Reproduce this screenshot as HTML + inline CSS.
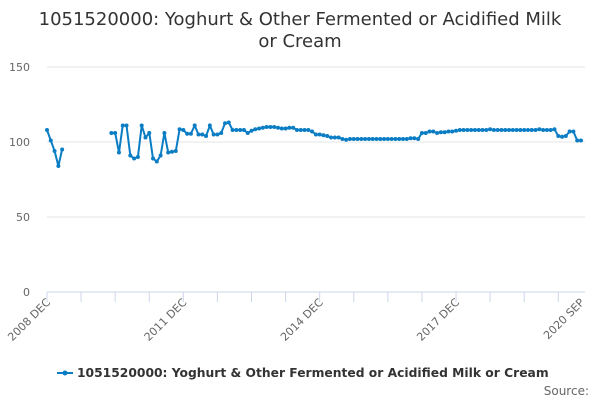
<!DOCTYPE html>
<html><head><meta charset="utf-8"><style>
body{margin:0;background:#fff;font-family:"DejaVu Sans",sans-serif;}
svg text{font-family:"DejaVu Sans",sans-serif;}
</style></head><body>
<svg id="c" width="600" height="400">
<text x="300" y="25" text-anchor="middle" font-size="18" fill="#333"><tspan x="300">1051520000: Yoghurt &amp; Other Fermented or Acidified Milk</tspan><tspan x="300" dy="22">or Cream</tspan></text>
<g id="grid"></g><g id="xaxis"></g><g id="series"></g>
<g>
<line x1="57" y1="373" x2="73" y2="373" stroke="#0b7dc4" stroke-width="2"/>
<circle cx="65" cy="373" r="2.5" fill="#0b7dc4"/>
<text x="77" y="377" font-size="12.3" font-weight="bold" fill="#333">1051520000: Yoghurt &amp; Other Fermented or Acidified Milk or Cream</text>
</g>
<text x="589" y="395" text-anchor="end" font-size="12" fill="#666">Source:</text>
</svg>
<script>
const yTicks=[0,50,100,150];
const xLabels=["2008 DEC","2011 DEC","2014 DEC","2017 DEC","2020 SEP"];
const xLabelIdx=[0,36,72,108,141];
const values=[108,101,94,84,95,null,null,null,null,null,null,null,null,null,null,null,null,
106,106,93,111,111,91,89,90,111,103,106,89,87,91,106,93,93.5,94,108.5,108,105.5,105.5,111,105,105,104,111,105,105,106,112.5,113,108,
108,108,108,106,107.5,108.5,109,109.5,110,110,110,109.5,109,109,109.5,109.5,108,108,108,108,107,105,105,104.5,104,103,103,103,102,101.5,
102,102,102,102,102,102,102,102,102,102,102,102,102,102,102,102,102.5,102.5,102,
106,106,107,107,106,106.5,106.5,107,107,107.5,108,108,108,108,108,108,108,108,108.5,108,108,108,108,108,108,108,108,108,108,108,108,108.5,108,108,108,108.5,
104,103.5,104,107,107,101,101];
const NS="http://www.w3.org/2000/svg";
const x=i=>47+i*(581-47)/141;
const y=v=>292-v*1.5;
const g=document.getElementById('grid');
yTicks.forEach(t=>{
 const l=document.createElementNS(NS,'line');
 
 
 l.setAttribute('x1',47);l.setAttribute('x2',585);l.setAttribute('y1',y(t));l.setAttribute('y2',y(t));
 l.setAttribute('stroke',t===0?'#ccd6eb':'#e6e6e6');g.appendChild(l);
 const tx=document.createElementNS(NS,'text');
 
 
 tx.setAttribute('x',30);tx.setAttribute('y',y(t)+4);tx.setAttribute('text-anchor','end');
 tx.setAttribute('font-size','11');tx.setAttribute('fill','#666');tx.textContent=t;g.appendChild(tx);
});
const xa=document.getElementById('xaxis');
for(let i=0;i<=141;i+=9){
 const l=document.createElementNS(NS,'line');
 
 
 l.setAttribute('x1',x(i));l.setAttribute('x2',x(i));l.setAttribute('y1',292);l.setAttribute('y2',302);
 l.setAttribute('stroke','#ccd6eb');xa.appendChild(l);
}
xLabels.forEach((lab,k)=>{
 const tx=document.createElementNS(NS,'text');
 
 
 const px=x(xLabelIdx[k])+4,py=303;
 tx.setAttribute('x',px);tx.setAttribute('y',py);tx.setAttribute('text-anchor','end');
 tx.setAttribute('transform',`rotate(-45 ${px} ${py})`);
 tx.setAttribute('font-size','11');tx.setAttribute('fill','#666');tx.textContent=lab;xa.appendChild(tx);
});
const s=document.getElementById('series');
let d='',pen=false;
values.forEach((v,i)=>{
 if(v===null){pen=false;return;}
 d+=(pen?'L':'M')+x(i).toFixed(1)+' '+y(v).toFixed(1)+' ';pen=true;
});
const p=document.createElementNS(NS,'path');


p.setAttribute('d',d);p.setAttribute('fill','none');p.setAttribute('stroke','#0b7dc4');p.setAttribute('stroke-width','2');
s.appendChild(p);
values.forEach((v,i)=>{
 if(v===null)return;
 const c=document.createElementNS(NS,'circle');
 
 
 c.setAttribute('cx',x(i));c.setAttribute('cy',y(v));c.setAttribute('r',2);c.setAttribute('fill','#0b7dc4');
 s.appendChild(c);
});
</script>
</body></html>
